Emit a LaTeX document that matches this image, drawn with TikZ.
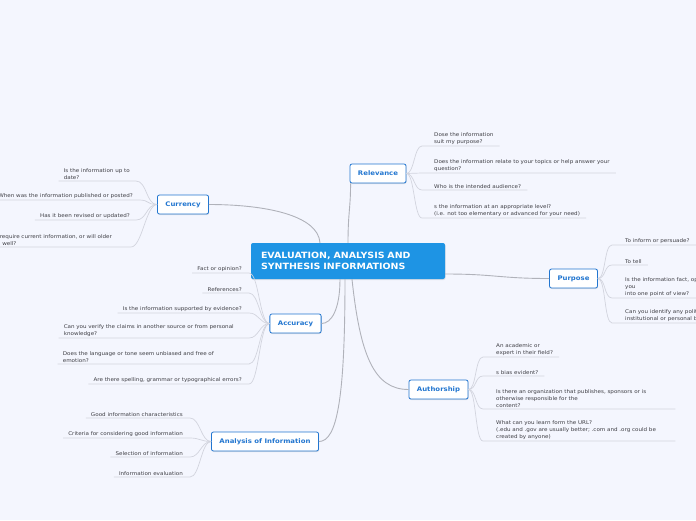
\documentclass[tikz,border=0pt]{standalone}
\usepackage{fontspec}
\setmainfont{DejaVu Sans}[FakeStretch=1.1]
\usetikzlibrary{shadows}
\definecolor{bgcol}{RGB}{244,246,254}
\definecolor{mainblue}{RGB}{30,148,228}
\definecolor{topicblue}{RGB}{34,118,208}
\definecolor{linkgray}{RGB}{176,178,186}
\definecolor{twiggray}{RGB}{210,212,222}
\definecolor{leaftext}{RGB}{62,62,68}

\begin{document}
\begin{tikzpicture}[x=1pt,y=-1pt,
    mainnode/.style={fill=mainblue,rounded corners=2pt,text=white,font=\fontsize{8.6}{11}\selectfont\bfseries,text width=174pt,align=left,inner xsep=10pt,minimum width=194pt,minimum height=36pt,drop shadow={shadow xshift=0.5pt,shadow yshift=-1pt,opacity=.2}},
    topic/.style={draw=topicblue,line width=0.8pt,fill=white,rounded corners=2pt,text=topicblue,font=\fontsize{6.3}{7}\selectfont\bfseries,inner xsep=8pt,minimum height=19pt,drop shadow={shadow xshift=0.5pt,shadow yshift=-1pt,opacity=.2}},
    leafr/.style={anchor=south west,inner xsep=0pt,inner ysep=1.6pt,align=left,text=leaftext,font=\fontsize{5.1}{7}\selectfont},
    leafl/.style={leafr,anchor=south east,align=right},
    link/.style={draw=linkgray,line width=0.9pt},
    twig/.style={draw=twiggray,line width=0.7pt}]
  \useasboundingbox[fill=bgcol] (0,0) rectangle (696,520);

  % centre and topics
  \node[mainnode] (main) at (348,261) {EVALUATION, ANALYSIS AND\\SYNTHESIS INFORMATIONS};
  \node[topic] (rel) at (378,173.5) {Relevance};
  \node[topic] (cur) at (183,204.5) {Currency};
  \node[topic] (pur) at (573.5,278.5) {Purpose};
  \node[topic] (acc) at (295.5,323.5) {Accuracy};
  \node[topic] (auth) at (438.5,389.5) {Authorship};
  \node[topic] (ana) at (265,441.5) {Analysis of Information};

  \draw[link] (main.north) .. controls +(0,-30) and +(0,25) .. ([xshift=1pt]rel.south west);
  \draw[link] ([xshift=-28pt]main.north) .. controls +(-2,-28) and +(55,0) .. (cur.east);
  \draw[link] ([yshift=-13pt]main.east) .. controls +(50,0) and +(-50,0) .. (pur.west);
  \draw[link] ([xshift=-8pt]main.south) .. controls +(0,30) and +(10,0) .. (acc.east);
  \draw[link] ([xshift=4pt]main.south) .. controls +(8,75) and +(-35,0) .. (auth.west);
  \draw[link] ([xshift=-3pt]main.south) .. controls +(0,120) and +(18,0) .. (ana.east);

  % relevance
  \node[leafr] (r1) at (434,146) {Dose the information\\suit my purpose?};
  \node[leafr] (r2) at (434,173) {Does the information relate to your topics or help answer your\\question?};
  \node[leafr] (r3) at (434,190) {Who is the intended audience?};
  \node[leafr] (r4) at (434,218) {s the information at an appropriate level?\\(i.e. not too elementary or advanced for your need)};
  \foreach \n in {r1,r2,r3,r4}
    \draw[twig] (rel.east) .. controls +(8,0) and +(-8,0) .. ([xshift=-12pt]\n.south west) -- ([xshift=6pt]\n.south east);

  % purpose
  \node[leafr] (p1) at (625,245) {To inform or persuade?};
  \node[leafr] (p2) at (625,265) {To tell};
  \node[leafr] (p3) at (625,298) {Is the information fact, op\\you\\into one point of view?};
  \node[leafr] (p4) at (625,323) {Can you identify any polit\\institutional or personal b};
  \foreach \n in {p1,p2,p3,p4}
    \draw[twig] (pur.east) .. controls +(8,0) and +(-8,0) .. ([xshift=-13pt]\n.south west) -- ([xshift=6pt]\n.south east);

  % authorship
  \node[leafr] (a1) at (496,357) {An academic or\\expert in their field?};
  \node[leafr] (a2) at (496,376) {s bias evident?};
  \node[leafr,text width=173pt] (a3) at (496,409) {Is there an organization that publishes, sponsors or is\\otherwise responsible for the\\content?};
  \node[leafr,text width=173pt] (a4) at (496,441) {What can you learn form the URL?\\(.edu and .gov are usually better; .com and .org could be\\created by anyone)};
  \foreach \n in {a1,a2,a3,a4}
    \draw[twig] (auth.east) .. controls +(8,0) and +(-8,0) .. ([xshift=-13pt]\n.south west) -- ([xshift=6pt]\n.south east);

  % currency
  \node[leafl,align=left] (c1) at (130,181) {Is the information up to\\date?};
  \node[leafl] (c2) at (133,200) {When was the information published or posted?};
  \node[leafl] (c3) at (130,220) {Has it been revised or updated?};
  \node[leafl,align=left,text width=125pt] (c4) at (125,247) {require current information, or will older\\\hspace*{2.5pt}well?};
  \foreach \n in {c1,c2,c3,c4}
    \draw[twig] (cur.west) .. controls +(-11,0) and +(11,0) .. ([xshift=6pt]\n.south east) -- ([xshift=-5pt]\n.south west);

  % accuracy
  \node[leafl] (ac1) at (242,273) {Fact or opinion?};
  \node[leafl] (ac2) at (242,293) {References?};
  \node[leafl] (ac3) at (242,313) {Is the information supported by evidence?};
  \node[leafl,align=left,text width=178pt] (ac4) at (242,338) {Can you verify the claims in another source or from personal\\knowledge?};
  \node[leafl,align=left,text width=179pt] (ac5) at (242,364) {Does the language or tone seem unbiased and free of\\emotion?};
  \node[leafl] (ac6) at (242,384) {Are there spelling, grammar or typographical errors?};
  \foreach \n in {ac1,ac2,ac3,ac4,ac5,ac6}
    \draw[twig] (acc.west) .. controls +(-10,0) and +(10,0) .. ([xshift=7pt]\n.south east) -- ([xshift=-5pt]\n.south west);

  % analysis
  \node[leafl] (an1) at (183,418) {Good information characteristics};
  \node[leafl] (an2) at (183,438) {Criteria for considering good information};
  \node[leafl] (an3) at (183,457) {Selection of information};
  \node[leafl] (an4) at (183,477) {Information evaluation};
  \foreach \n in {an1,an2,an3,an4}
    \draw[twig] (ana.west) .. controls +(-10,0) and +(10,0) .. ([xshift=7pt]\n.south east) -- ([xshift=-5pt]\n.south west);
\end{tikzpicture}
\end{document}
